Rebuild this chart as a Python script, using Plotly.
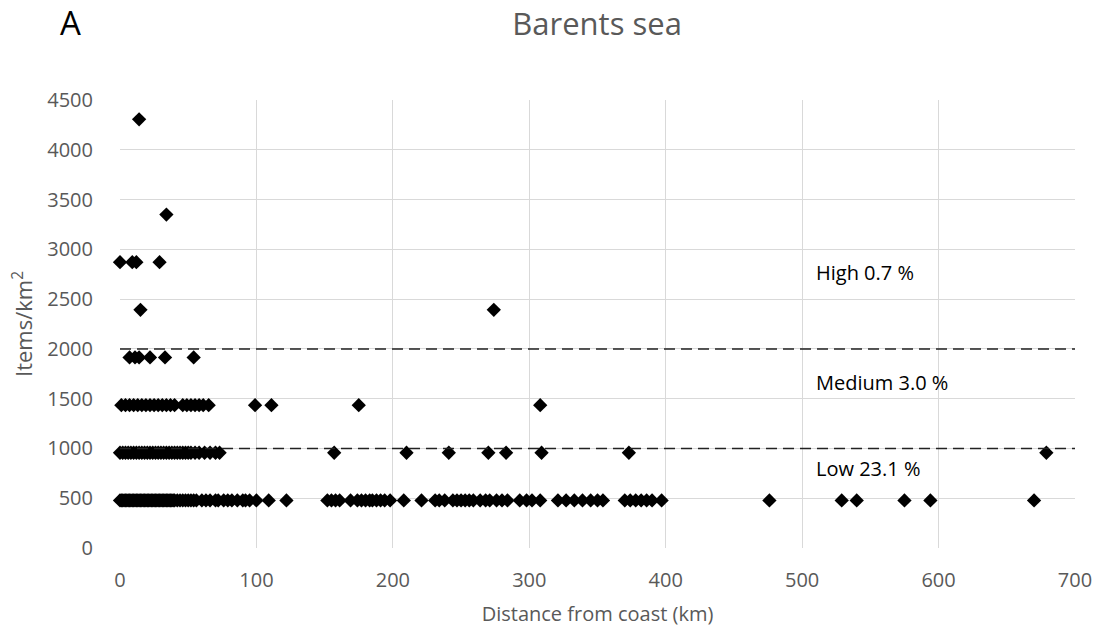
import plotly.graph_objects as go

# Density levels (items/km2) and distances from coast (km) for each level
levels = [478, 957, 1435, 1914, 2392, 2871, 3349, 4306]
dist_478 = [0, 1, 2, 3, 4, 5, 6, 7, 8, 9, 10, 11, 12, 13, 14, 15, 16, 17, 18, 19, 20,
            21, 22, 23, 24, 25, 26, 27, 28, 29, 30, 31, 32, 33, 34, 35, 36, 37, 38, 39,
            40, 42, 44, 46, 48, 50, 52, 54, 56, 60, 63, 66, 70, 72, 76, 79, 82, 86, 90,
            92, 95, 100, 109, 122, 152, 155, 158, 161, 169, 174, 177, 180, 183, 185,
            188, 191, 194, 198, 208, 221, 231, 234, 238, 244, 247, 250, 253, 256, 259,
            264, 268, 271, 276, 280, 284, 293, 298, 302, 308, 321, 327, 333, 339, 345,
            350, 354, 370, 374, 378, 382, 386, 390, 397, 476, 529, 540, 575, 594, 670]
dist_957 = [0, 2, 4, 6, 8, 10, 12, 14, 16, 18, 20, 22, 24, 26, 28, 30, 32, 34, 36, 38,
            40, 42, 44, 46, 48, 50, 52, 55, 58, 62, 66, 70, 73, 157, 210, 241, 270, 283,
            309, 373, 679]
dist_1435 = [1, 4, 7, 10, 13, 16, 19, 22, 25, 28, 31, 34, 37, 40, 46, 49, 52, 55, 58,
             61, 65, 99, 111, 175, 308]
dist_1914 = [7, 11, 14, 22, 33, 54]
dist_2392 = [15, 274]
dist_2871 = [0, 9, 12, 29]
dist_3349 = [34]
dist_4306 = [14]
dists = [dist_478, dist_957, dist_1435, dist_1914, dist_2392, dist_2871, dist_3349, dist_4306]

thresholds = [1000, 2000]
class_labels = ["Low 23.1 %", "Medium 3.0 %", "High 0.7 %"]
class_label_y = [800, 1660, 2770]
class_label_x = 509

xs, ys = [], []
for lv, d in zip(levels, dists):
    xs += d
    ys += [lv] * len(d)

font = "'Open Sans', sans-serif"
grey = "#595959"

fig = go.Figure()
fig.add_trace(go.Scatter(x=xs, y=ys, mode="markers", cliponaxis=False,
                         marker=dict(symbol="diamond", size=11, color="black"),
                         showlegend=False, hoverinfo="x+y"))
for t in thresholds:
    fig.add_shape(type="line", x0=0, x1=700, y0=t, y1=t, xref="x", yref="y",
                  line=dict(color="#222222", width=1.5, dash="11px,6px"))
for lab, yy in zip(class_labels, class_label_y):
    fig.add_annotation(x=class_label_x, y=yy, text=lab, showarrow=False,
                       xanchor="left", yanchor="middle",
                       font=dict(family=font, size=20, color="black"))

fig.add_annotation(x=-0.0523, y=1.174, xref="paper", yref="paper", text="A",
                   showarrow=False, xanchor="center", yanchor="middle",
                   font=dict(family=font, size=33, color="black"))

fig.update_layout(
    width=1093, height=633,
    margin=dict(l=120, r=18, t=100, b=85),
    paper_bgcolor="white", plot_bgcolor="white",
    title=dict(text="Barents sea", x=0.5463, xanchor="center", y=0.962, yanchor="middle",
               font=dict(family=font, size=31, color=grey)),
    xaxis=dict(range=[0, 700], dtick=100, showgrid=True, gridcolor="#d9d9d9", gridwidth=1.3,
               zeroline=False, showline=False, automargin=False,
               ticks="outside", ticklen=14, tickcolor="rgba(0,0,0,0)",
               tickfont=dict(family=font, size=20, color=grey),
               title=dict(text="Distance from coast (km)", standoff=14,
                          font=dict(family=font, size=20, color=grey))),
    yaxis=dict(range=[0, 4500], dtick=500, showgrid=True, gridcolor="#d9d9d9", gridwidth=1.3,
               zeroline=False, showline=False, automargin=False,
               ticks="outside", ticklen=22, tickcolor="rgba(0,0,0,0)",
               tickfont=dict(family=font, size=20, color=grey),
               title=dict(text="Items/km<sup>2</sup>", standoff=8,
                          font=dict(family=font, size=22, color=grey))),
)

fig.write_html("out.html")
